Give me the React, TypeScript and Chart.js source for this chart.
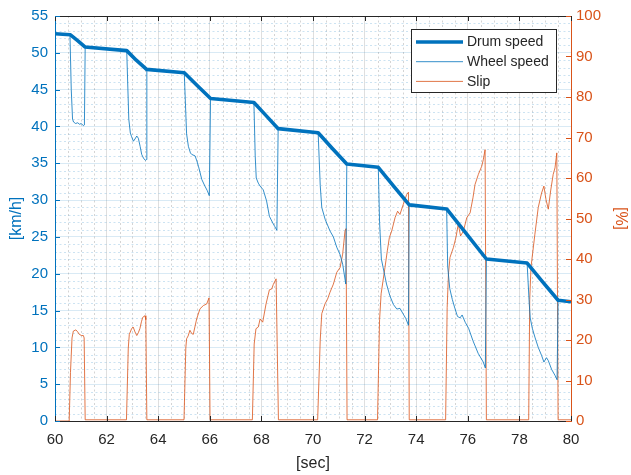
import React, { useEffect, useRef } from "react";
import { Chart, registerables } from "chart.js";

Chart.register(...registerables);

// ---------- data ----------
const drumTime = [60.0, 60.6, 60.9, 61.16, 62.78, 63.15, 63.55, 65.01, 65.5, 66.03, 67.71, 68.2, 68.65, 70.2, 70.75, 71.31, 72.53, 73.1, 73.73, 75.18, 75.95, 76.72, 78.3, 78.9, 79.5, 80.0];
const drumSpeed = [52.6, 52.45, 51.6, 50.8, 50.3, 49.0, 47.75, 47.3, 45.6, 43.8, 43.25, 41.4, 39.7, 39.15, 37.0, 34.9, 34.45, 32.0, 29.35, 28.8, 25.4, 22.0, 21.45, 18.9, 16.4, 16.2];

const wheelTime = [
  60.0, 60.58, 60.63, 60.68, 60.72, 60.8, 60.88, 60.95, 61.02, 61.1, 61.14, 61.17,
  62.78, 62.86, 62.92, 62.97, 63.04, 63.1, 63.17, 63.23, 63.3, 63.36, 63.43, 63.5, 63.54, 63.56,
  65.01, 65.1, 65.17, 65.25, 65.3, 65.43, 65.5, 65.56, 65.69, 65.81, 65.9, 65.98, 66.03,
  67.71, 67.76, 67.8, 67.88, 67.95, 68.07, 68.2, 68.31, 68.44, 68.52, 68.6, 68.65,
  70.2, 70.28, 70.34, 70.47, 70.66, 70.79, 70.92, 71.05, 71.15, 71.27, 71.31,
  72.53, 72.58, 72.65, 72.72, 72.85, 72.98, 73.12, 73.25, 73.37, 73.5, 73.6, 73.7, 73.73,
  75.18, 75.22, 75.3, 75.4, 75.5, 75.6, 75.7, 75.78, 75.9, 76.03, 76.2, 76.4, 76.6, 76.68, 76.72,
  78.3, 78.38, 78.42, 78.5, 78.6, 78.73, 78.86, 78.95, 79.05, 79.12, 79.25, 79.38, 79.46, 79.5, 80.0,
];
const wheelSpeed = [
  52.6, 52.45, 45.0, 41.0, 40.6, 40.4, 40.5, 40.3, 40.4, 40.1, 40.2, 50.8,
  50.3, 41.0, 39.1, 38.6, 38.0, 38.3, 38.7, 38.4, 37.3, 36.2, 35.7, 35.4, 35.5, 47.7,
  47.3, 39.0, 37.3, 36.4, 36.2, 36.0, 35.3, 34.6, 32.8, 31.9, 31.3, 30.6, 43.8,
  43.2, 36.0, 33.0, 32.3, 31.9, 31.4, 29.9, 27.8, 26.9, 26.4, 25.9, 39.7,
  39.1, 32.0, 29.0, 27.4, 25.8, 25.0, 23.6, 22.6, 21.3, 18.6, 34.9,
  34.5, 27.0, 22.0, 20.8, 18.6, 17.0, 15.8, 15.2, 15.3, 14.5, 13.9, 13.0, 29.4,
  28.8, 21.0, 18.0, 16.5, 15.3, 14.2, 14.0, 14.4, 13.4, 12.6, 10.9, 9.2, 8.0, 7.2, 22.0,
  21.4, 16.0, 14.0, 12.6, 11.4, 10.0, 8.9, 8.0, 8.6, 8.2, 7.0, 6.2, 5.6, 16.4, 16.2,
];

const slipTime = [
  60.0, 60.55, 60.6, 60.66, 60.71, 60.81, 60.88, 60.94, 61.03, 61.1, 61.13, 61.17,
  62.77, 62.84, 62.88, 62.97, 63.03, 63.1, 63.17, 63.23, 63.29, 63.35, 63.4, 63.49, 63.52, 63.56,
  65.0, 65.07, 65.1, 65.16, 65.23, 65.3, 65.36, 65.49, 65.62, 65.75, 65.88, 65.97, 66.01,
  67.65, 67.72, 67.79, 67.88, 67.95, 68.05, 68.18, 68.31, 68.4, 68.46, 68.57, 68.66,
  70.18, 70.28, 70.34, 70.47, 70.56, 70.66, 70.79, 70.92, 71.05, 71.15, 71.24, 71.28, 71.32,
  72.5, 72.58, 72.64, 72.79, 72.88, 72.96, 73.05, 73.18, 73.28, 73.37, 73.5, 73.63, 73.7, 73.73,
  75.14, 75.2, 75.25, 75.31, 75.44, 75.54, 75.63, 75.72, 75.83, 75.96, 76.09, 76.2, 76.28, 76.41, 76.54, 76.6, 76.67, 76.72,
  78.36, 78.4, 78.45, 78.6, 78.73, 78.86, 78.95, 79.03, 79.12, 79.21, 79.31, 79.38, 79.45, 79.5, 80.0,
];
const slipPct = [
  0, 0, 12, 20.5, 22.2, 22.5, 22.0, 21.4, 21.1, 21.1, 20.5, 0.3,
  0.3, 18, 21.4, 22.8, 23.2, 22.0, 21.1, 21.8, 22.8, 24.5, 25.6, 26.0, 25.0, 0.3,
  0.3, 18, 20.3, 21.0, 22.4, 21.6, 21.4, 25.2, 27.7, 28.5, 28.9, 30.4, 0.3,
  0.3, 19, 22.8, 23.2, 25.2, 24.4, 28.9, 32.4, 32.6, 33.7, 35.1, 0.3,
  0.3, 20, 26.5, 29.0, 30.0, 31.8, 33.8, 36.7, 37.9, 41.2, 46.9, 47.5, 0.3,
  0.3, 25, 31.4, 37.9, 42.0, 45.3, 46.9, 50.2, 51.8, 51.0, 53.5, 55.9, 56.5, 0.3,
  0.3, 28, 36.3, 40.4, 42.8, 45.3, 48.6, 45.7, 46.9, 50.2, 51.4, 55.1, 58.4, 60.9, 62.9, 64.5, 67.0, 0.3,
  0.3, 30, 38, 46.1, 52.7, 56.3, 58.0, 54.7, 52.3, 56.8, 60.9, 62.5, 66.2, 0.3, 0.3,
];

const legendLabels = ["Drum speed", "Wheel speed", "Slip"];
const xTitle = "[sec]";
const yTitle = "[km/h]";
const y2Title = "[%]";

// ---------- style ----------
const BLUE = "#0072BD";
const ORANGE = "#D95319";
const DARK = "#262626";
const FONT = "'Liberation Sans', Arial, Helvetica, sans-serif";

const decor = {
  id: "decor",
  beforeDatasetsDraw(chart: any) {
    const { ctx, chartArea: a, scales } = chart;
    const xs = scales.x;
    const ys = scales.y;
    ctx.save();
    ctx.lineWidth = 1;
    ctx.setLineDash([2, 2.5]);
    // vertical minor grid
    ctx.strokeStyle = "rgba(38,38,38,0.2)";
    for (let v = 60.5; v < 80; v += 0.5) {
      if (Math.abs(v / 2 - Math.round(v / 2)) < 1e-6) continue;
      const px = Math.round(xs.getPixelForValue(v)) + 0.5;
      ctx.beginPath();
      ctx.moveTo(px, a.top);
      ctx.lineTo(px, a.bottom);
      ctx.stroke();
    }
    // horizontal minor grid
    ctx.strokeStyle = "rgba(0,114,189,0.2)";
    for (let v = 1; v < 55; v += 1) {
      if (v % 5 === 0) continue;
      const py = Math.round(ys.getPixelForValue(v)) + 0.5;
      ctx.beginPath();
      ctx.moveTo(a.left, py);
      ctx.lineTo(a.right, py);
      ctx.stroke();
    }
    ctx.restore();
  },
  afterDraw(chart: any) {
    const { ctx, chartArea: a, scales } = chart;
    const xs = scales.x;
    const ys = scales.y;
    const y2 = scales.y2;
    const tl = 5;
    ctx.save();
    ctx.lineWidth = 1;
    ctx.setLineDash([]);
    // top border
    ctx.strokeStyle = DARK;
    ctx.beginPath();
    ctx.moveTo(a.left, Math.round(a.top) + 0.5);
    ctx.lineTo(a.right, Math.round(a.top) + 0.5);
    ctx.stroke();
    // x ticks inward (top and bottom)
    xs.ticks.forEach((t: any) => {
      const px = Math.round(xs.getPixelForValue(t.value)) + 0.5;
      ctx.beginPath();
      ctx.moveTo(px, a.bottom);
      ctx.lineTo(px, a.bottom - tl);
      ctx.moveTo(px, a.top);
      ctx.lineTo(px, a.top + tl);
      ctx.stroke();
    });
    // left ticks inward
    ctx.strokeStyle = BLUE;
    ys.ticks.forEach((t: any) => {
      const py = Math.round(ys.getPixelForValue(t.value)) + 0.5;
      ctx.beginPath();
      ctx.moveTo(a.left, py);
      ctx.lineTo(a.left + tl, py);
      ctx.stroke();
    });
    // right ticks inward
    ctx.strokeStyle = ORANGE;
    y2.ticks.forEach((t: any) => {
      const py = Math.round(y2.getPixelForValue(t.value)) + 0.5;
      ctx.beginPath();
      ctx.moveTo(a.right, py);
      ctx.lineTo(a.right - tl, py);
      ctx.stroke();
    });

    // legend box
    const bx = 411, by = 29.5, bw = 145, bh = 63;
    ctx.fillStyle = "#ffffff";
    ctx.fillRect(bx, by, bw, bh);
    ctx.strokeStyle = DARK;
    ctx.lineWidth = 1;
    ctx.strokeRect(bx + 0.5, by, bw, bh);
    const ds = chart.data.datasets;
    ctx.font = `14px ${FONT}`;
    ctx.textBaseline = "middle";
    ctx.textAlign = "left";
    legendLabels.forEach((lab, i) => {
      const cy = by + 12.5 + i * 19.7;
      ctx.strokeStyle = ds[i].borderColor;
      ctx.lineWidth = ds[i].borderWidth;
      ctx.beginPath();
      ctx.moveTo(416, cy);
      ctx.lineTo(463, cy);
      ctx.stroke();
      ctx.fillStyle = DARK;
      ctx.fillText(lab, 467, cy + 0.5);
    });
    ctx.restore();
  },
};

const pts = (xs: number[], ys: number[]) => xs.map((x, i) => ({ x, y: ys[i] }));

export default function App() {
  const ref = useRef<HTMLCanvasElement | null>(null);
  useEffect(() => {
    if (!ref.current) return;
    const chart = new Chart(ref.current, {
      type: "line",
      data: {
        datasets: [
          {
            label: legendLabels[0],
            data: pts(drumTime, drumSpeed),
            yAxisID: "y",
            borderColor: BLUE,
            borderWidth: 3.6,
            pointRadius: 0,
            tension: 0,
            borderJoinStyle: "round",
          },
          {
            label: legendLabels[1],
            data: pts(wheelTime, wheelSpeed),
            yAxisID: "y",
            borderColor: BLUE,
            borderWidth: 0.8,
            pointRadius: 0,
            tension: 0,
          },
          {
            label: legendLabels[2],
            data: pts(slipTime, slipPct),
            yAxisID: "y2",
            borderColor: ORANGE,
            borderWidth: 0.8,
            pointRadius: 0,
            tension: 0,
          },
        ],
      } as any,
      options: {
        animation: false,
        responsive: true,
        maintainAspectRatio: false,
        layout: { padding: { top: 13, left: 0, right: 0, bottom: 0 } },
        plugins: { legend: { display: false }, tooltip: { enabled: false }, title: { display: false } },
        scales: {
          x: {
            type: "linear",
            min: 60,
            max: 80,
            afterFit: (s: any) => { s.height = 54; },
            ticks: { stepSize: 2, color: DARK, font: { family: FONT, size: 15 }, padding: 10, maxRotation: 0, autoSkip: false },
            grid: { color: "rgba(38,38,38,0.15)", drawTicks: false, lineWidth: 1 },
            border: { color: DARK, width: 1 },
            title: { display: true, text: xTitle, color: DARK, font: { family: FONT, size: 16 }, padding: { top: 0, bottom: 2 } },
          },
          y: {
            type: "linear",
            position: "left",
            min: 0,
            max: 55,
            afterFit: (s: any) => { s.width = 55; },
            ticks: { stepSize: 5, color: BLUE, font: { family: FONT, size: 15 }, padding: 7 },
            grid: { color: "rgba(0,114,189,0.15)", drawTicks: false, lineWidth: 1 },
            border: { color: BLUE, width: 1 },
            title: { display: true, text: yTitle, color: BLUE, font: { family: FONT, size: 16 }, padding: { top: 7, bottom: 0 } },
          },
          y2: {
            type: "linear",
            position: "right",
            min: 0,
            max: 100,
            afterFit: (s: any) => { s.width = 60; },
            ticks: { stepSize: 10, color: ORANGE, font: { family: FONT, size: 15 }, padding: 5 },
            grid: { drawOnChartArea: false, drawTicks: false },
            border: { color: ORANGE, width: 1 },
            title: { display: true, text: y2Title, color: ORANGE, font: { family: FONT, size: 16 }, padding: { top: 1, bottom: 0 } },
          },
        },
      } as any,
      plugins: [decor],
    });
    return () => chart.destroy();
  }, []);
  return (
    <div style={{ position: "absolute", left: 0, top: 0, width: 631, height: 475, background: "#ffffff" }}>
      <canvas ref={ref} />
    </div>
  );
}
